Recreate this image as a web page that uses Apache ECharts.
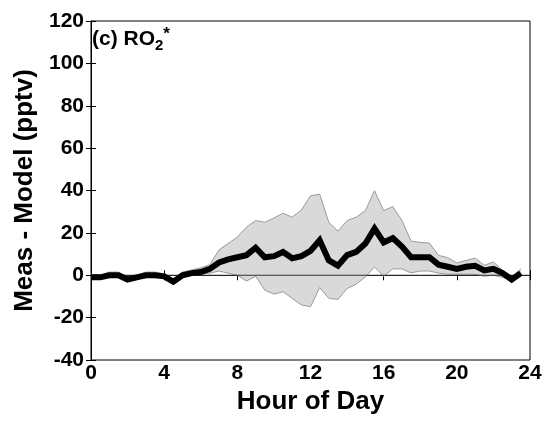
<!DOCTYPE html>
<html>
<head>
<meta charset="utf-8">
<script src="https://cdn.jsdelivr.net/npm/echarts@6/dist/echarts.min.js"></script>
<style>html,body{margin:0;padding:0;background:#fff}#c{width:545px;height:422px}</style>
</head>
<body>
<div id="c"></div>
<script>
var hours = [0,0.5,1,1.5,2,2.5,3,3.5,4,4.5,5,5.5,6,6.5,7,7.5,8,8.5,9,9.5,10,10.5,11,11.5,12,12.5,13,13.5,14,14.5,15,15.5,16,16.5,17,17.5,18,18.5,19,19.5,20,20.5,21,21.5,22,22.5,23,23.5];
var meanDiff = [-1,-1,0,0,-2,-1,0,0,-0.5,-3,0,1,1.5,3,6,7.5,8.5,9.5,13,8.5,9,11,8,9,11.5,16.5,7,4.5,9.5,11,15,22,15.5,17.5,13.5,8.5,8.5,8.5,5,4,3,4,4.5,2.3,3,1,-2,1];
var upperBound = [0.5,0,1.5,1.5,-1,0,1.5,1.5,0.5,-2,1.5,2.5,3.5,5,12,15,18,22.7,25.8,25,27,29.3,27.4,30.8,37.5,38.3,25,20.8,25.8,27.4,30.5,39.9,30.5,32.4,25.8,16.1,15.5,15.2,9.4,8.3,5.8,7,8.1,4.7,6.3,2.3,-1,3.1];
var lowerBound = [-2,-2,-1,-1,-3,-2,-1,-1,-1.5,-4,-1,0,0.5,1,2,1,0,-2.7,-0.5,-7,-8.9,-7.8,-10.9,-14,-14.9,-5.8,-10.9,-11.4,-6.3,-4.2,-0.8,3.9,-0.5,3,3,1.1,2,2,1,0.5,0.5,0.5,0.5,-0.5,0,-1,-2.6,0];
var xTicks = [0,4,8,12,16,20,24];
var yTicks = [-40,-20,0,20,40,60,80,100,120];

var meanData = hours.map(function(h,i){return [h, meanDiff[i]];});

var chart = echarts.init(document.getElementById('c'), null, {renderer:'canvas'});
var font = '"Liberation Sans", Arial, sans-serif';
var tickLabel = {fontFamily: font, fontWeight: 'bold', fontSize: 21, color: '#000'};

function renderBand(params, api) {
  if (params.dataIndex !== 0) return null;
  var up = [], lo = [];
  for (var i = 0; i < hours.length; i++) {
    up.push(api.coord([hours[i], upperBound[i]]));
    lo.push(api.coord([hours[i], lowerBound[i]]));
  }
  var poly = up.concat(lo.slice().reverse());
  return {
    type: 'group',
    children: [
      {type: 'polygon', shape: {points: poly}, style: {fill: '#d9d9d9', stroke: null}},
      {type: 'polyline', shape: {points: up}, style: {stroke: '#9a9a9a', lineWidth: 1, fill: null}},
      {type: 'polyline', shape: {points: lo}, style: {stroke: '#9a9a9a', lineWidth: 1, fill: null}}
    ]
  };
}

chart.setOption({
  animation: false,
  backgroundColor: '#fff',
  grid: {left: 91, right: 15, top: 21, bottom: 62, show: true, borderColor: '#000', borderWidth: 1, backgroundColor: 'transparent'},
  xAxis: [{
    type: 'value', min: xTicks[0], max: xTicks[xTicks.length-1], interval: 4,
    name: 'Hour of Day', nameLocation: 'middle', nameGap: 27,
    nameTextStyle: {fontFamily: font, fontWeight: 'bold', fontSize: 26, color: '#000'},
    axisLine: {show: true, lineStyle: {color: '#000', width: 1}},
    axisTick: {show: true, inside: true, length: 5, lineStyle: {color: '#000'}},
    axisLabel: Object.assign({margin: 3}, tickLabel),
    splitLine: {show: false}
  },{
    type: 'value', position: 'top', min: 0, max: 24, interval: 4,
    axisLine: {show: true, lineStyle: {color: '#000', width: 1}},
    axisTick: {show: true, inside: true, length: 5, lineStyle: {color: '#000'}},
    axisLabel: {show: false}, splitLine: {show: false}
  }],
  yAxis: [{
    type: 'value', min: yTicks[0], max: yTicks[yTicks.length-1], interval: 20,
    name: 'Meas - Model (pptv)', nameLocation: 'middle', nameGap: 52,
    nameTextStyle: {fontFamily: font, fontWeight: 'bold', fontSize: 26, color: '#000'},
    axisLine: {show: true, lineStyle: {color: '#000', width: 1}},
    axisTick: {show: true, inside: true, length: 5, lineStyle: {color: '#000'}},
    axisLabel: Object.assign({margin: 7}, tickLabel),
    splitLine: {show: false}
  },{
    type: 'value', position: 'right', min: -40, max: 120, interval: 20,
    axisLine: {show: true, lineStyle: {color: '#000', width: 1}},
    axisTick: {show: true, inside: true, length: 5, lineStyle: {color: '#000'}},
    axisLabel: {show: false}, splitLine: {show: false}
  }],
  graphic: [{
    type: 'text', left: 92, top: 26,
    style: {
      rich: {
        a: {fontFamily: font, fontWeight: 'bold', fontSize: 21, fill: '#000'},
        sub: {fontFamily: font, fontWeight: 'bold', fontSize: 15, fill: '#000', verticalAlign: 'bottom', padding: [12,0,0,0]},
        sup: {fontFamily: font, fontWeight: 'bold', fontSize: 17, fill: '#000', verticalAlign: 'top', padding: [0,0,10,0]}
      },
      text: '{a|(c) RO}{sub|2}{sup|*}'
    }
  }],
  series: [{
    type: 'custom', data: [[0]], renderItem: renderBand, z: 1, silent: true
  },{
    type: 'line', data: [[0,0],[24,0]], symbol: 'none',
    lineStyle: {color: '#333', width: 1}, z: 2, silent: true
  },{
    type: 'line', data: meanData, symbol: 'none',
    lineStyle: {color: '#000', width: 6, join: 'miter'}, z: 3
  }]
});
</script>
</body>
</html>
